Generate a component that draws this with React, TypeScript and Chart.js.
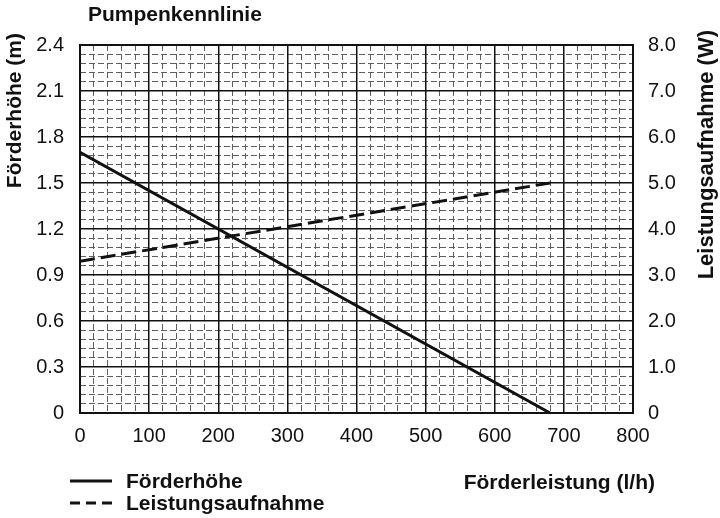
import { useEffect, useRef } from 'react'
import { Chart, registerables } from 'chart.js'

Chart.register(...registerables)

// Values
const flowRates = [0, 680] // l/h
const headValues = [1.7, 0] // m
const powerValues = [3.3, 5.0] // W

const headTicks = [0, 0.3, 0.6, 0.9, 1.2, 1.5, 1.8, 2.1, 2.4]
const powerTicks = [0, 1, 2, 3, 4, 5, 6, 7, 8]

const FONT = '"Liberation Sans", Arial, Helvetica, sans-serif'
const INK = '#111111'
const MINOR = '#5e5e5e'
const CLEAR = 'rgba(0,0,0,0)'

const isMultiple = (v: number, step: number) => Math.abs(v / step - Math.round(v / step)) < 1e-6

// Title, axis titles and the legend drawn as plain canvas text
const textPlugin = {
  id: 'pumpText',
  afterDraw(chart: Chart) {
    const ctx = chart.ctx
    ctx.save()
    ctx.fillStyle = INK
    ctx.font = `bold 21px ${FONT}`
    ctx.textBaseline = 'middle'

    ctx.textAlign = 'left'
    ctx.fillText('Pumpenkennlinie', 88, 15)

    ctx.textAlign = 'right'
    ctx.fillText('Förderleistung (l/h)', 655, 483)

    // rotated axis titles, reading bottom to top
    ctx.save()
    ctx.translate(15, 33)
    ctx.rotate(-Math.PI / 2)
    ctx.textAlign = 'right'
    ctx.fillText('Förderhöhe (m)', 0, 0)
    ctx.restore()

    ctx.save()
    ctx.font = `bold 22px ${FONT}`
    ctx.translate(707, 30)
    ctx.rotate(-Math.PI / 2)
    ctx.textAlign = 'right'
    ctx.fillText('Leistungsaufnahme (W)', 0, 0)
    ctx.restore()

    // legend
    ctx.textAlign = 'left'
    ctx.strokeStyle = INK
    ctx.lineWidth = 3
    ctx.setLineDash([])
    ctx.beginPath()
    ctx.moveTo(70, 481)
    ctx.lineTo(112, 481)
    ctx.stroke()
    ctx.fillText('Förderhöhe', 126, 482)

    ctx.setLineDash([10, 6])
    ctx.beginPath()
    ctx.moveTo(70, 503)
    ctx.lineTo(112, 503)
    ctx.stroke()
    ctx.setLineDash([])
    ctx.fillText('Leistungsaufnahme', 126, 504)

    ctx.restore()
  },
}

export default function App() {
  const chartRef = useRef<HTMLCanvasElement>(null)
  const chartInstance = useRef<Chart | null>(null)

  useEffect(() => {
    if (!chartRef.current) return
    const ctx = chartRef.current.getContext('2d')
    if (!ctx) return

    if (chartInstance.current) {
      chartInstance.current.destroy()
    }

    const tickFont = { family: FONT, size: 20 }

    chartInstance.current = new Chart(ctx, {
      type: 'line',
      data: {
        datasets: [
          {
            label: 'Förderhöhe',
            data: flowRates.map((x, i) => ({ x, y: headValues[i] })),
            borderColor: INK,
            borderWidth: 3,
            pointRadius: 0,
            yAxisID: 'y',
            xAxisID: 'x',
          },
          {
            label: 'Leistungsaufnahme',
            data: flowRates.map((x, i) => ({ x, y: powerValues[i] })),
            borderColor: INK,
            borderWidth: 3,
            borderDash: [15, 6],
            pointRadius: 0,
            yAxisID: 'y1',
            xAxisID: 'x',
          },
        ],
      },
      options: {
        responsive: false,
        animation: false,
        layout: {
          padding: { top: 45, left: 0, right: 0, bottom: 0 },
        },
        scales: {
          xMinor: {
            type: 'linear',
            position: 'top',
            min: 0,
            max: 800,
            ticks: { display: false, stepSize: 20, autoSkip: false },
            grid: {
              drawTicks: false,
              lineWidth: 1,
              color: (c: any) => (isMultiple(c.tick.value, 100) ? CLEAR : MINOR),
            },
            border: { display: false, dash: [6, 3] },
            afterFit: (s: any) => {
              s.height = 0
            },
          },
          yMinor: {
            type: 'linear',
            position: 'left',
            min: 0,
            max: 2.4,
            ticks: { display: false, stepSize: 0.06, autoSkip: false },
            grid: {
              drawTicks: false,
              lineWidth: 1,
              color: (c: any) => (isMultiple(c.tick.value, 0.3) ? CLEAR : MINOR),
            },
            border: { display: false, dash: [6, 3] },
            afterFit: (s: any) => {
              s.width = 0
            },
          },
          x: {
            type: 'linear',
            position: 'bottom',
            min: 0,
            max: 800,
            ticks: {
              stepSize: 100,
              autoSkip: false,
              maxRotation: 0,
              color: INK,
              font: tickFont,
              padding: 11,
            },
            grid: {
              drawTicks: false,
              color: INK,
              lineWidth: (c: any) => (c.tick && (c.tick.value === 0 || c.tick.value === 800) ? 2 : 1.5),
            },
            border: { display: true, color: INK, width: 2 },
            afterFit: (s: any) => {
              s.height = 105
            },
          },
          y: {
            type: 'linear',
            position: 'left',
            min: 0,
            max: 2.4,
            afterBuildTicks: (s: any) => {
              s.ticks = headTicks.map((value) => ({ value }))
            },
            ticks: {
              autoSkip: false,
              color: INK,
              font: tickFont,
              padding: 16,
              callback: (v: any) => (Number(v) === 0 ? '0' : Number(v).toFixed(1)),
            },
            grid: {
              drawTicks: false,
              color: INK,
              lineWidth: (c: any) => (c.tick && (c.tick.value === 0 || isMultiple(c.tick.value - 2.4, 1)) ? 2 : 1.5),
            },
            border: { display: true, color: INK, width: 2 },
            afterFit: (s: any) => {
              s.width = 80
            },
          },
          y1: {
            type: 'linear',
            position: 'right',
            min: 0,
            max: 8,
            afterBuildTicks: (s: any) => {
              s.ticks = powerTicks.map((value) => ({ value }))
            },
            ticks: {
              autoSkip: false,
              color: INK,
              font: tickFont,
              padding: 15,
              callback: (v: any) => (Number(v) === 0 ? '0' : Number(v).toFixed(1)),
            },
            grid: { drawOnChartArea: false, drawTicks: false },
            border: { display: true, color: INK, width: 2 },
            afterFit: (s: any) => {
              s.width = 87
            },
          },
        },
        plugins: {
          legend: { display: false },
          title: { display: false },
          tooltip: { enabled: false },
        },
      },
      plugins: [textPlugin],
    })

    return () => {
      if (chartInstance.current) {
        chartInstance.current.destroy()
        chartInstance.current = null
      }
    }
  }, [])

  return (
    <div style={{ position: 'fixed', left: 0, top: 0, width: 720, height: 518, background: '#ffffff' }}>
      <canvas ref={chartRef} width={720} height={518} />
    </div>
  )
}
